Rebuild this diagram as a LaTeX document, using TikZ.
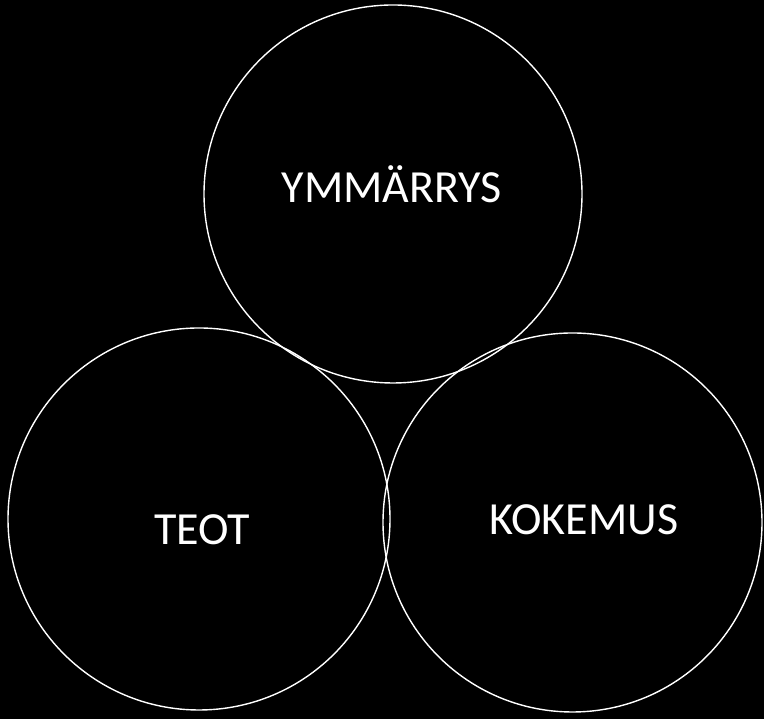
\documentclass[tikz,border=0pt]{standalone}
\usepackage{fontspec}
\setmainfont{Carlito}
\begin{document}
\begin{tikzpicture}[x=1pt,y=1pt,
  ring/.style={draw=white,line width=1.4pt,circle,inner sep=0pt},
  lbl/.style={text=white,font=\fontsize{46}{55}\selectfont,anchor=base,inner sep=0pt}]
\fill[black] (0,0) rectangle (764,719);
\useasboundingbox (0,0) rectangle (764,719);
\node[ring,minimum size=378pt] (top) at (393,525) {};
\node[ring,minimum size=382pt] (left) at (199,200) {};
\node[ring,minimum size=379pt] (right) at (572.5,196.5) {};
\node[lbl] (t1) at (392,516) {YMMÄRRYS};
\node[lbl] (t2) at (202,174) {TEOT};
\node[lbl] (t3) at (584,184) {KOKEMUS};
\end{tikzpicture}
\end{document}
